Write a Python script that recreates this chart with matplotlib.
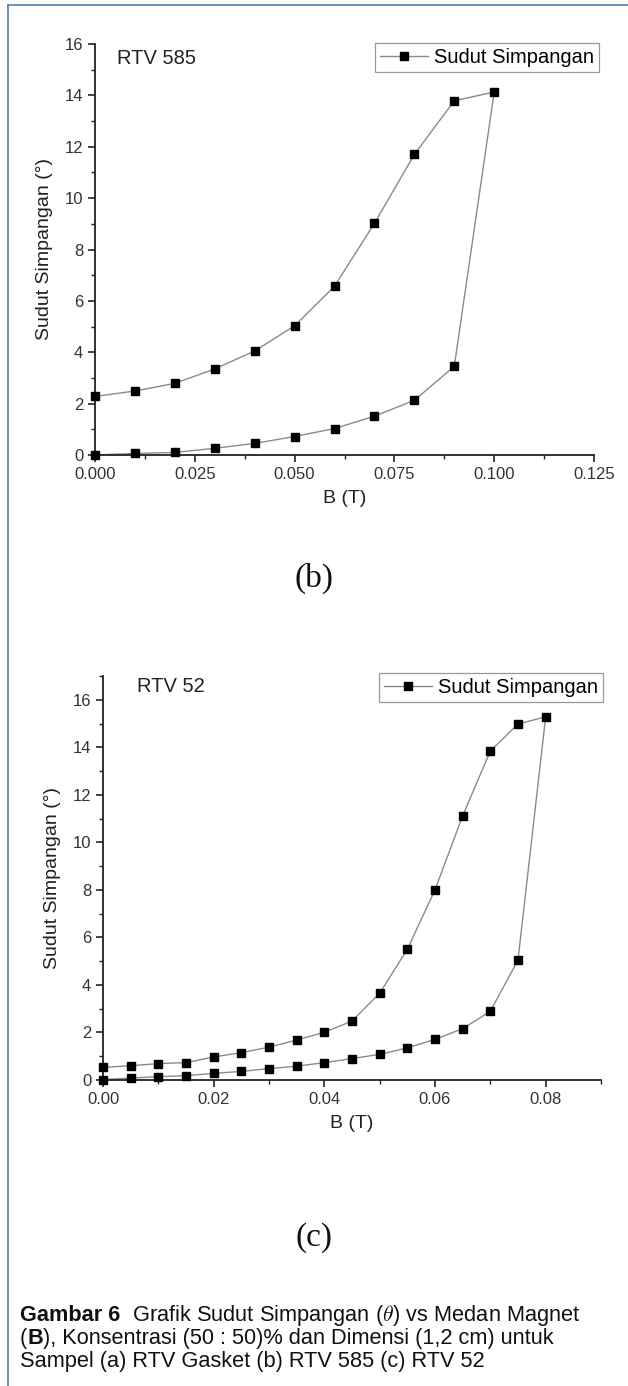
import matplotlib
matplotlib.use('Agg')
import matplotlib.pyplot as plt
from matplotlib.ticker import MultipleLocator, FormatStrFormatter
from matplotlib.lines import Line2D

plt.rcParams['font.family'] = ['Liberation Sans', 'DejaVu Sans']
plt.rcParams['mathtext.fontset'] = 'cm'

# RTV 585: field rising, then falling back
b585_up = [0.000, 0.010, 0.020, 0.030, 0.040, 0.050, 0.060, 0.070, 0.080, 0.090, 0.100]
s585_up = [0.00, 0.06, 0.10, 0.26, 0.45, 0.72, 1.03, 1.51, 2.13, 3.45, 14.13]
b585_down = [0.090, 0.080, 0.070, 0.060, 0.050, 0.040, 0.030, 0.020, 0.010, 0.000]
s585_down = [13.79, 11.70, 9.02, 6.57, 5.03, 4.05, 3.35, 2.79, 2.49, 2.28]

# RTV 52
b52_up = [0.000, 0.005, 0.010, 0.015, 0.020, 0.025, 0.030, 0.035, 0.040,
          0.045, 0.050, 0.055, 0.060, 0.065, 0.070, 0.075, 0.080]
s52_up = [0.02, 0.08, 0.14, 0.18, 0.28, 0.36, 0.48, 0.58, 0.73,
          0.90, 1.08, 1.35, 1.71, 2.16, 2.89, 5.05, 15.28]
b52_down = [0.075, 0.070, 0.065, 0.060, 0.055, 0.050, 0.045, 0.040,
            0.035, 0.030, 0.025, 0.020, 0.015, 0.010, 0.005, 0.000]
s52_down = [14.98, 13.84, 11.12, 8.00, 5.50, 3.65, 2.48, 2.01,
            1.68, 1.38, 1.15, 0.97, 0.73, 0.69, 0.60, 0.53]

W, H = 628, 1386
fig = plt.figure(figsize=(W / 100, H / 100), dpi=100)

LINE_C = '#8a8a8a'
TICK_C = '#333333'


def px_axes(left, top, right, bottom):
    """Axes from pixel box (y measured from top)."""
    return fig.add_axes([left / W, 1 - bottom / H, (right - left) / W, (bottom - top) / H])


def style_axes(ax, xmax, ymax, xmaj, xfmt):
    ax.set_xlim(0, xmax)
    ax.set_ylim(0, ymax)
    for s in ('top', 'right'):
        ax.spines[s].set_visible(False)
    for s in ('left', 'bottom'):
        ax.spines[s].set_linewidth(1.3)
        ax.spines[s].set_color('#222222')
    ax.xaxis.set_major_locator(MultipleLocator(xmaj))
    ax.xaxis.set_minor_locator(MultipleLocator(xmaj / 2))
    ax.yaxis.set_major_locator(MultipleLocator(2))
    ax.yaxis.set_minor_locator(MultipleLocator(1))
    ax.xaxis.set_major_formatter(FormatStrFormatter(xfmt))
    ax.tick_params(which='major', direction='out', length=5, width=1.2,
                   labelsize=12, labelcolor=TICK_C, color='#222222')
    ax.tick_params(which='minor', direction='out', length=3, width=1.0, color='#222222')
    ax.set_xlabel('B (T)', fontsize=14, color='#222222', labelpad=6)
    ax.set_ylabel('Sudut Simpangan (°)', fontsize=14, color='#222222', labelpad=8)


def draw_loop(ax, bx, by, dx, dy):
    xs = bx + dx
    ys = by + dy
    ax.plot(xs, ys, color=LINE_C, linewidth=1.0, zorder=2)
    ax.plot(xs, ys, linestyle='none', marker='s', markersize=6,
            markerfacecolor='black', markeredgecolor='black', zorder=3, clip_on=False)


def add_legend(ax, right_px, top_px):
    handle = Line2D([], [], color=LINE_C, linewidth=1.0, marker='s', markersize=6,
                    markerfacecolor='black', markeredgecolor='black')
    leg = ax.legend([handle], ['Sudut Simpangan'], loc='upper right',
                    bbox_to_anchor=(right_px / W, 1 - top_px / H),
                    bbox_transform=fig.transFigure, borderaxespad=0,
                    fancybox=False, framealpha=1, edgecolor='#999999',
                    fontsize=14.5, handlelength=2.4, handletextpad=0.3,
                    borderpad=0.25)
    leg.get_frame().set_linewidth(0.9)


# ---- (b) RTV 585
ax1 = px_axes(95, 44, 594, 455)
style_axes(ax1, 0.125, 16, 0.025, '%.3f')
draw_loop(ax1, b585_up, s585_up, b585_down, s585_down)
add_legend(ax1, 599, 43)
fig.text(117 / W, 1 - 59 / H, 'RTV 585', fontsize=14.5, va='center', ha='left', color='#222222')
fig.text(314 / W, 1 - 578 / H, '(b)', fontsize=24, family='Liberation Serif',
         ha='center', va='center', color='#111111')

# ---- (c) RTV 52
ax2 = px_axes(103, 676, 601, 1080)
style_axes(ax2, 0.09, 17, 0.02, '%.2f')
draw_loop(ax2, b52_up, s52_up, b52_down, s52_down)
add_legend(ax2, 603, 673)
fig.text(137 / W, 1 - 686 / H, 'RTV 52', fontsize=14.5, va='center', ha='left', color='#222222')
fig.text(314 / W, 1 - 1238 / H, '(c)', fontsize=24, family='Liberation Serif',
         ha='center', va='center', color='#111111')

# ---- caption, pieced together so bold parts line up
renderer = fig.canvas.get_renderer()
CAP_FS = 15.7


def caption_line(y_px, pieces, x_px=20):
    x = x_px
    for txt, weight in pieces:
        t = fig.text(x / W, 1 - y_px / H, txt, fontsize=CAP_FS, fontweight=weight,
                     ha='left', va='baseline', color='#111111')
        bb = t.get_window_extent(renderer=renderer)
        x += bb.width


caption_line(1321, [('Gambar 6', 'bold'),
                    ('  Grafik Sudut Simpangan ($\\theta$) vs Medan Magnet', 'normal')])
caption_line(1344, [('(', 'normal'), ('B', 'bold'),
                    ('), Konsentrasi (50 : 50)% dan Dimensi (1,2 cm) untuk', 'normal')])
caption_line(1367, [('Sampel (a) RTV Gasket (b) RTV 585 (c) RTV 52', 'normal')])

# thin page frame at top-left
frame_c = '#4f7fb5'
fig.add_artist(Line2D([8 / W, 8 / W], [0, 1 - 5 / H], transform=fig.transFigure,
                      color=frame_c, linewidth=1.2))
fig.add_artist(Line2D([8 / W, 1], [1 - 5 / H, 1 - 5 / H], transform=fig.transFigure,
                      color=frame_c, linewidth=1.2))

fig.savefig('out.png', dpi=100)
